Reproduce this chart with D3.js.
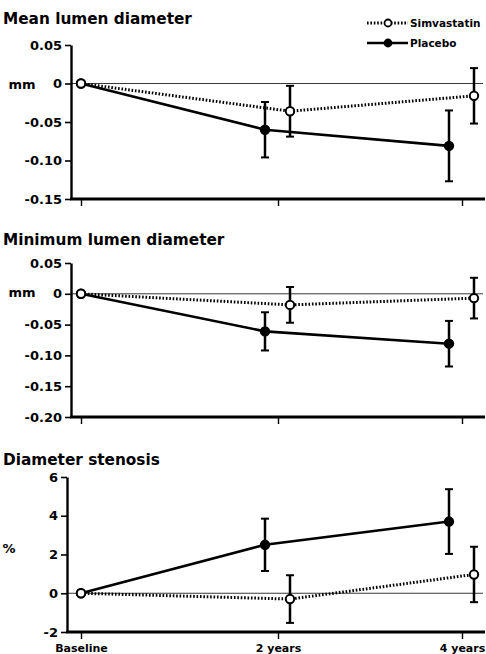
<!DOCTYPE html>
<html lang="en">
<head>
<meta charset="UTF-8">
<title>Lumen diameter</title>
<script src="https://d3js.org/d3.v7.min.js"></script>
<style>
  body { margin: 0; background: #fff; }
  svg { display: block; }
  text { font-family: "DejaVu Sans", sans-serif; font-weight: bold; fill: #000; }
</style>
</head>
<body>
<svg width="486" height="654"></svg>
<script>
// --- data ---
var timepoints = ["Baseline", "2 years", "4 years"];
var seriesNames = ["Simvastatin", "Placebo"];

var meanSimva      = [0, -0.036, -0.016];
var meanSimvaErr   = [0, 0.033, 0.036];
var meanPlacebo    = [0, -0.060, -0.081];
var meanPlaceboErr = [0, 0.036, 0.046];

var minSimva      = [0, -0.018, -0.007];
var minSimvaErr   = [0, 0.029, 0.033];
var minPlacebo    = [0, -0.061, -0.081];
var minPlaceboErr = [0, 0.031, 0.037];

var stenSimva      = [0, -0.3, 0.97];
var stenSimvaErr   = [0, 1.23, 1.43];
var stenPlacebo    = [0, 2.5, 3.7];
var stenPlaceboErr = [0, 1.35, 1.67];

var meanTicks = [0.05, 0, -0.05, -0.10, -0.15];
var meanTickLabels = ["0.05", "0", "-0.05", "-0.10", "-0.15"];
var minTicks = [0.05, 0, -0.05, -0.10, -0.15, -0.20];
var minTickLabels = ["0.05", "0", "-0.05", "-0.10", "-0.15", "-0.20"];
var stenTicks = [6, 4, 2, 0, -2];
var stenTickLabels = ["6", "4", "2", "0", "-2"];

// layout of the three panels
var panels = [
  {title: "Mean lumen diameter", unit: "mm", unitY: 84, titleY: 24, top: 45, bottom: 199, left: 71,
   ticks: meanTicks, labels: meanTickLabels, domain: [-0.15, 0.05],
   simva: meanSimva, simvaErr: meanSimvaErr, placebo: meanPlacebo, placeboErr: meanPlaceboErr, xLabels: false},
  {title: "Minimum lumen diameter", unit: "mm", unitY: 292, titleY: 245, top: 263, bottom: 417, left: 71,
   ticks: minTicks, labels: minTickLabels, domain: [-0.20, 0.05],
   simva: minSimva, simvaErr: minSimvaErr, placebo: minPlacebo, placeboErr: minPlaceboErr, xLabels: false},
  {title: "Diameter stenosis", unit: "%", unitY: 548, titleY: 465, top: 477, bottom: 632, left: 67,
   ticks: stenTicks, labels: stenTickLabels, domain: [-2, 6],
   simva: stenSimva, simvaErr: stenSimvaErr, placebo: stenPlacebo, placeboErr: stenPlaceboErr, xLabels: true}
];

var svg = d3.select("svg");
var x = d3.scaleOrdinal().domain(timepoints).range([81, 278, 462]);
var dodge = {Simvastatin: 12, Placebo: -13};
var right = 485;

panels.forEach(function(p) {
  var y = d3.scaleLinear().domain(p.domain).range([p.bottom, p.top]);
  var g = svg.append("g");

  g.append("text").attr("x", 3).attr("y", p.titleY)
    .style("font-size", "15.3px").text(p.title);
  g.append("text").attr("x", p.unit == "%" ? 9 : 22).attr("y", p.unitY)
    .attr("text-anchor", "middle").attr("dy", "0.35em")
    .style("font-size", "13px").text(p.unit);

  // zero reference line
  g.append("line").attr("x1", p.left).attr("x2", right - 2)
    .attr("y1", y(0)).attr("y2", y(0))
    .attr("stroke", "#222").attr("stroke-width", 0.9);

  // y axis
  var yaxis = g.append("g").attr("transform", "translate(" + p.left + ",0)")
    .call(d3.axisLeft(y).tickValues(p.ticks).tickFormat(function(d, i) { return p.labels[i]; })
      .tickSize(6).tickSizeOuter(0).tickPadding(3));
  yaxis.select(".domain").attr("stroke-width", 2.4);
  yaxis.selectAll(".tick line").attr("stroke-width", 1.6);
  yaxis.selectAll(".tick text").style("font-size", "13px")
    .style("font-family", "'DejaVu Sans', sans-serif").style("font-weight", "bold");

  // x axis
  var xaxis = g.append("g").attr("transform", "translate(0," + p.bottom + ")")
    .call(d3.axisBottom(x).tickSize(7).tickPadding(5)
      .tickFormat(function(d) { return p.xLabels ? d : ""; }));
  xaxis.select(".domain").remove();
  xaxis.selectAll(".tick line").attr("stroke-width", 1.4);
  xaxis.selectAll(".tick text").style("font-size", "11px")
    .style("font-family", "'DejaVu Sans', sans-serif").style("font-weight", "bold");
  g.append("line").attr("x1", p.left - 1).attr("x2", right)
    .attr("y1", p.bottom).attr("y2", p.bottom)
    .attr("stroke", "#000").attr("stroke-width", 3);

  var series = [
    {name: "Placebo", values: p.placebo, err: p.placeboErr},
    {name: "Simvastatin", values: p.simva, err: p.simvaErr}
  ];
  function px(s, i) { return x(timepoints[i]) + (i > 0 ? dodge[s.name] : 0); }

  series.forEach(function(s) {
    var line = d3.line()
      .x(function(d, i) { return px(s, i); })
      .y(function(d) { return y(d); });
    g.append("path").datum(s.values).attr("d", line)
      .attr("fill", "none").attr("stroke", "#000")
      .attr("stroke-width", s.name == "Placebo" ? 2.6 : 3)
      .attr("stroke-dasharray", s.name == "Placebo" ? null : "1.6,1.8");
  });

  series.forEach(function(s) {
    s.values.forEach(function(v, i) {
      if (!s.err[i]) return;
      var cx = px(s, i);
      var bars = g.append("g").attr("stroke", "#000");
      bars.append("line").attr("x1", cx).attr("x2", cx)
        .attr("y1", y(v - s.err[i])).attr("y2", y(v + s.err[i])).attr("stroke-width", 2.5);
      [v - s.err[i], v + s.err[i]].forEach(function(e) {
        bars.append("line").attr("x1", cx - 4).attr("x2", cx + 4)
          .attr("y1", y(e)).attr("y2", y(e)).attr("stroke-width", 2);
      });
    });
  });

  series.forEach(function(s) {
    g.selectAll(null).data(s.values).enter().append("circle")
      .attr("cx", function(d, i) { return px(s, i); })
      .attr("cy", function(d) { return y(d); })
      .attr("r", 4.2)
      .attr("fill", s.name == "Placebo" ? "#000" : "#fff")
      .attr("stroke", "#000").attr("stroke-width", 2);
  });
});

// legend
var legend = svg.append("g");
seriesNames.forEach(function(name, i) {
  var ly = 23 + i * 20;
  var row = legend.append("g");
  row.append("line").attr("x1", 367).attr("x2", 408).attr("y1", ly).attr("y2", ly)
    .attr("stroke", "#000").attr("stroke-width", name == "Placebo" ? 2.6 : 3)
    .attr("stroke-dasharray", name == "Placebo" ? null : "1.6,1.8");
  row.append("circle").attr("cx", 388).attr("cy", ly).attr("r", 3.5)
    .attr("fill", name == "Placebo" ? "#000" : "#fff")
    .attr("stroke", "#000").attr("stroke-width", 1.8);
  row.append("text").attr("x", 410).attr("y", ly).attr("dy", "0.35em")
    .style("font-size", "10.5px").text(name);
});
</script>
</body>
</html>
